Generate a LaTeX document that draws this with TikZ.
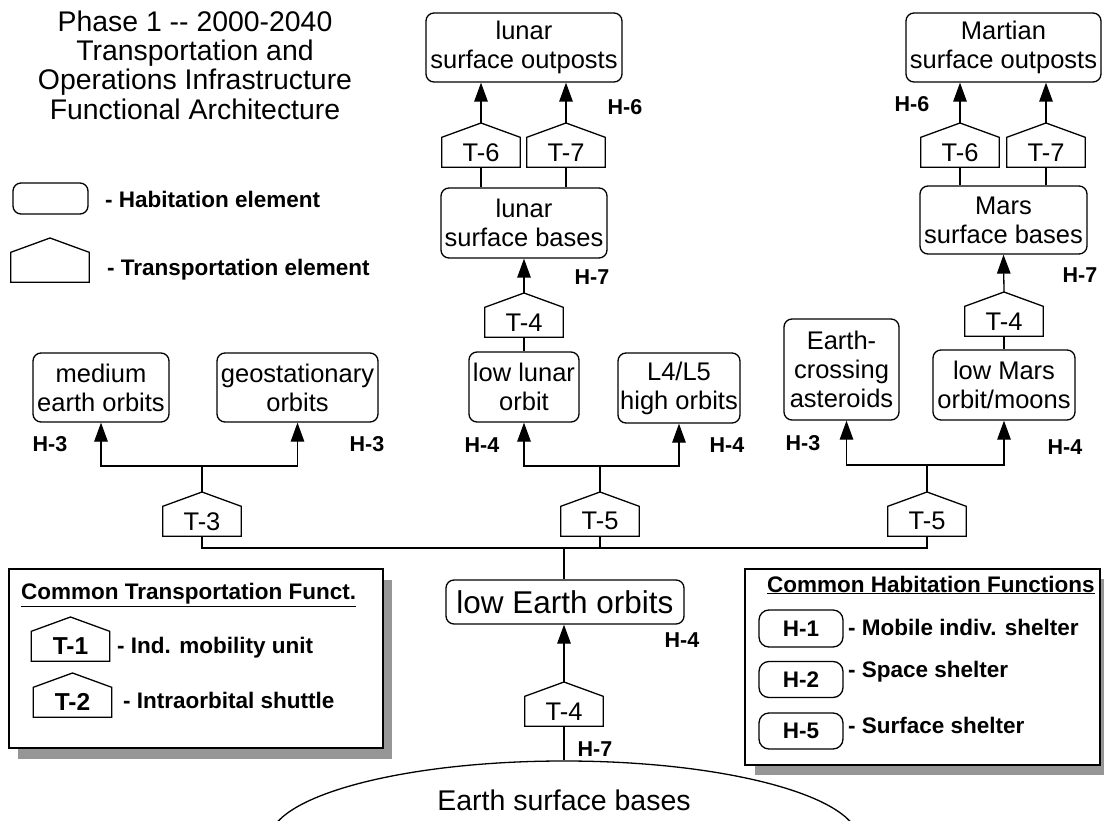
\documentclass[tikz,border=0pt]{standalone}
\usepackage{fontspec}
\setmainfont{Liberation Sans}
\usetikzlibrary{arrows.meta,calc,shapes.geometric}
\newcommand\boxfont{\fontsize{25.5}{29}\selectfont}
\newcommand\leofont{\fontsize{31.5}{36}\selectfont}
\newcommand\earthfont{\fontsize{28.5}{33}\selectfont}
\newcommand\titlefont{\fontsize{28.4}{29.3}\selectfont}
\newcommand\labfont{\bfseries\fontsize{21.5}{25}\selectfont}
\newcommand\legfont{\bfseries\fontsize{22.5}{26}\selectfont}
\newcommand\legTfont{\bfseries\fontsize{24.5}{28}\selectfont}
\definecolor{shadowgray}{RGB}{150,150,150}
\tikzset{
  box/.style={draw, line width=1.3pt, rounded corners=8pt, align=center, inner sep=0pt, font=\boxfont},
  tbody/.style={minimum width=78pt, minimum height=29.5pt, inner sep=0pt},
  pentline/.style={line width=1.3pt, line join=miter},
  arr/.style={line width=1.3pt, -{Triangle[length=19pt,width=13.5pt]}},
  conn/.style={line width=1.3pt},
  hlab/.style={font=\labfont, inner sep=0pt},
  legtext/.style={font=\legfont, anchor=west, inner sep=0pt},
  legbox/.style={draw, fill=white, line width=1.3pt, inner sep=0pt},
}
% name, x, apex y, text, font
\newcommand\TPent[5]{%
  \node[tbody, font=#5] (#1) at ({#2},{#3+29.25}) {#4};
  \coordinate (#1-apex) at ({#2},{#3});
  \draw[pentline] (#1.north west) -- (#1-apex) -- (#1.north east) -- (#1.south east) -- (#1.south west) -- cycle;
}
\begin{document}
\begin{tikzpicture}[x=1pt, y=-1pt]
\useasboundingbox (0,0) rectangle (1104,821);
\clip (0,0) rectangle (1104,821);

% ---------- title ----------
\node[font=\titlefont, align=center, inner sep=0pt] (title) at (195,65)
  {Phase 1 -{}- 2000-2040\\Transportation and\\Operations Infrastructure\\Functional Architecture};

% ---------- top legend ----------
\node[draw, line width=1.3pt, rounded corners=8pt, minimum width=75pt, minimum height=31pt, inner sep=0pt] (legH) at (50.5,198.5) {};
\node[legtext] (legHt) at (105,199) {- Habitation element};
\TPent{legT}{50}{238}{}{\boxfont}
\node[legtext] (legTt) at (107,270) {- Transportation element};

% ---------- lunar branch ----------
\node[box, minimum width=196pt, minimum height=69pt] (lso) at (524,47.5) {lunar\\surface outposts};
\TPent{t6l}{481}{123}{T-6}{\boxfont}
\TPent{t7l}{566}{123}{T-7}{\boxfont}
\node[box, minimum width=166pt, minimum height=70pt] (lsb) at (524,223) {lunar\\surface bases};
\TPent{t4l}{524}{293}{T-4}{\boxfont}
\node[box, minimum width=110pt, minimum height=70pt] (llo) at (524,387) {low lunar\\orbit};
\node[box, minimum width=122pt, minimum height=70pt] (l45) at (679,388) {L4/L5\\high orbits};
\TPent{t5a}{600}{492}{T-5}{\boxfont}
\coordinate (br5a) at (600,466);

\draw[arr] (t6l-apex) -- (t6l-apex |- lso.south);
\draw[arr] (t7l-apex) -- (t7l-apex |- lso.south);
\draw[conn] (t6l.south) -- (t6l.south |- lsb.north);
\draw[conn] (t7l.south) -- (t7l.south |- lsb.north);
\draw[arr] (t4l-apex) -- (lsb.south);
\draw[conn] (t4l.south) -- (llo.north);
\draw[arr] (t5a-apex) -- (br5a) -| (llo.south);
\draw[arr] (br5a) -| (l45.south);

\node[hlab] (h6l) at (625,107) {H-6};
\node[hlab] (h7l) at (592,277) {H-7};
\node[hlab] (h4a) at (482,445) {H-4};
\node[hlab] (h4b) at (727,445) {H-4};

% ---------- earth orbits branch ----------
\node[box, minimum width=136pt, minimum height=69pt] (meo) at (101,387.5) {medium\\earth orbits};
\node[box, minimum width=161pt, minimum height=69pt] (geo) at (297.5,387.5) {geostationary\\orbits};
\TPent{t3}{202}{492}{T-3}{\boxfont}
\coordinate (br3) at (202,466);
\draw[arr] (t3-apex) -- (br3) -| (meo.south);
\draw[arr] (br3) -| (geo.south);
\node[hlab] (h3a) at (50,444) {H-3};
\node[hlab] (h3b) at (367,444) {H-3};

% ---------- Mars branch ----------
\node[box, minimum width=195pt, minimum height=69pt] (mso) at (1003.5,47.5) {Martian\\surface outposts};
\TPent{t6r}{960}{123}{T-6}{\boxfont}
\TPent{t7r}{1046}{123}{T-7}{\boxfont}
\node[box, minimum width=167pt, minimum height=68pt] (msb) at (1003.5,220) {Mars\\surface bases};
\TPent{t4r}{1004}{292}{T-4}{\boxfont}
\node[box, minimum width=142pt, minimum height=70pt] (lmo) at (1004,385) {low Mars\\orbit/moons};
\node[box, minimum width=115pt, minimum height=101pt] (eca) at (841.5,369.5) {Earth-\\crossing\\asteroids};
\TPent{t5b}{927}{492}{T-5}{\boxfont}
\coordinate (br5b) at (927,465);

\draw[arr] (t6r-apex) -- (t6r-apex |- mso.south);
\draw[arr] (t7r-apex) -- (t7r-apex |- mso.south);
\draw[conn] (t6r.south) -- (t6r.south |- msb.north);
\draw[conn] (t7r.south) -- (t7r.south |- msb.north);
\draw[arr] (t4r-apex) -- (msb.south);
\draw[conn] (t4r.south) -- (lmo.north);
\draw[arr] (t5b-apex) -- (br5b) -| ($(eca.south)+(5,0)$);
\draw[arr] (br5b) -| (lmo.south);

\node[hlab] (h6r) at (912,104) {H-6};
\node[hlab] (h7r) at (1080,275) {H-7};
\node[hlab] (h3c) at (803,443) {H-3};
\node[hlab] (h4c) at (1065,447) {H-4};

% ---------- bus and low Earth orbits ----------
\coordinate (bus) at (564,548);
\node[box, font=\leofont, minimum width=238pt, minimum height=44pt] (leo) at (565,602) {low Earth orbits};
\draw[conn] (t3.south) |- (bus) -| (t5b.south);
\draw[conn] (t5a.south) -- (t5a.south |- bus);
\draw[conn] (bus) -- (bus |- leo.north);
\TPent{t4e}{564}{682}{T-4}{\boxfont}
\draw[arr] (t4e-apex) -- (t4e-apex |- leo.south);
\node[hlab] (h4e) at (682,640) {H-4};

% ---------- Earth ----------
\node[draw, ellipse, line width=1.3pt, minimum width=590pt, minimum height=160pt, inner sep=0pt] (earth) at (564,841) {};
\node[font=\earthfont, inner sep=0pt] (eartht) at (564,800) {Earth surface bases};
\draw[conn] (t4e.south) -- (t4e.south |- earth.north);
\node[hlab] (h7e) at (595,749) {H-7};

% ---------- left legend box ----------
\fill[shadowgray] (18,580) rectangle (392,759);
\node[legbox, minimum width=374pt, minimum height=179pt] (lbox) at (196,658.5) {};
\node[legtext] (lboxt) at (21,595) {\underline{Common Transportation Funct.}};
\TPent{lt1}{70.5}{617}{T-1}{\legTfont}
\node[legtext] (lt1t) at (117,648) {- Ind. mobility unit};
\TPent{lt2}{72.5}{673}{T-2}{\legTfont}
\node[legtext] (lt2t) at (123,700) {- Intraorbital shuttle};

% ---------- right legend box ----------
\fill[shadowgray] (755,579) rectangle (1110,775);
\node[legbox, minimum width=355pt, minimum height=196pt] (rbox) at (922.5,667) {};
\node[legtext] (rboxt) at (767,585) {\underline{Common Habitation Functions}};
\node[legbox, rounded corners=10pt, font=\legfont, minimum width=84pt, minimum height=37pt] (rh1) at (801,628.5) {H-1};
\node[legtext] (rh1t) at (848,627) {- Mobile indiv. shelter};
\node[legbox, rounded corners=10pt, font=\legfont, minimum width=84pt, minimum height=36pt] (rh2) at (801,679.5) {H-2};
\node[legtext] (rh2t) at (848,672) {- Space shelter};
\node[legbox, rounded corners=10pt, font=\legfont, minimum width=84pt, minimum height=36pt] (rh5) at (801,731) {H-5};
\node[legtext] (rh5t) at (848,725) {- Surface shelter};
\end{tikzpicture}
\end{document}
